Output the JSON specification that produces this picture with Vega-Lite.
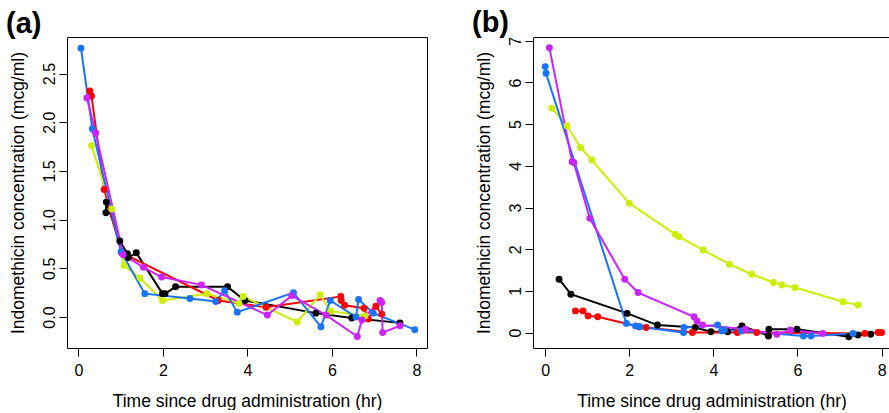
{
  "$schema": "https://vega.github.io/schema/vega-lite/v6.json",
  "padding": {"left": 5, "top": 8, "right": 0, "bottom": 0},
  "background": "white",
  "config": {
    "font": "Liberation Sans",
    "view": {"stroke": "black", "strokeWidth": 1},
    "axis": {"domain": false, "grid": false, "ticks": true, "tickColor": "black", "tickSize": 8, "tickWidth": 1, "labelColor": "black", "labelFontSize": 16, "titleColor": "black", "titleFontSize": 17.5, "titleFontWeight": "normal", "labelFont": "Liberation Sans", "titleFont": "Liberation Sans"},
    "axisX": {"labelPadding": 6, "titlePadding": 14},
    "axisY": {"labelAngle": -90, "labelPadding": 2, "titlePadding": 14},
    "title": {"fontSize": 29, "fontWeight": "bold", "anchor": "start", "frame": "bounds", "color": "black", "font": "Liberation Sans"}
  },
  "datasets": {
    "a": [
      {"s":1,"t":0.65,"c":1.07},{"s":1,"t":0.66,"c":1.18},{"s":1,"t":0.98,"c":0.78},{"s":1,"t":1.16,"c":0.65},{"s":1,"t":1.18,"c":0.61},{"s":1,"t":1.37,"c":0.66},{"s":1,"t":1.99,"c":0.24},{"s":1,"t":2.05,"c":0.24},{"s":1,"t":2.30,"c":0.31},{"s":1,"t":3.53,"c":0.31},{"s":1,"t":3.94,"c":0.17},{"s":1,"t":5.62,"c":0.04},{"s":1,"t":6.47,"c":-0.01},{"s":1,"t":7.61,"c":-0.06},
      {"s":2,"t":0.27,"c":2.32},{"s":2,"t":0.31,"c":2.27},{"s":2,"t":0.61,"c":1.31},{"s":2,"t":1.02,"c":0.66},{"s":2,"t":3.31,"c":0.17},{"s":2,"t":4.44,"c":0.10},{"s":2,"t":6.21,"c":0.21},{"s":2,"t":6.22,"c":0.17},{"s":2,"t":6.30,"c":0.12},{"s":2,"t":6.76,"c":0.09},{"s":2,"t":6.86,"c":-0.02},{"s":2,"t":7.04,"c":0.11},{"s":2,"t":7.18,"c":0.03},
      {"s":3,"t":0.31,"c":1.76},{"s":3,"t":0.79,"c":1.11},{"s":3,"t":1.08,"c":0.53},{"s":3,"t":1.46,"c":0.40},{"s":3,"t":1.99,"c":0.17},{"s":3,"t":3.04,"c":0.24},{"s":3,"t":3.80,"c":0.14},{"s":3,"t":3.90,"c":0.21},{"s":3,"t":5.18,"c":-0.05},{"s":3,"t":5.72,"c":0.23},{"s":3,"t":5.97,"c":0.06},{"s":3,"t":6.78,"c":0.01},
      {"s":4,"t":0.06,"c":2.76},{"s":4,"t":0.33,"c":1.93},{"s":4,"t":1.01,"c":0.67},{"s":4,"t":1.57,"c":0.24},{"s":4,"t":2.64,"c":0.19},{"s":4,"t":3.25,"c":0.16},{"s":4,"t":3.46,"c":0.27},{"s":4,"t":3.76,"c":0.05},{"s":4,"t":5.09,"c":0.25},{"s":4,"t":5.74,"c":-0.10},{"s":4,"t":5.96,"c":0.17},{"s":4,"t":6.57,"c":0.00},{"s":4,"t":6.63,"c":0.18},{"s":4,"t":6.98,"c":0.04},{"s":4,"t":7.96,"c":-0.13},
      {"s":5,"t":0.20,"c":2.25},{"s":5,"t":0.41,"c":1.89},{"s":5,"t":1.06,"c":0.64},{"s":5,"t":1.54,"c":0.51},{"s":5,"t":1.97,"c":0.41},{"s":5,"t":2.91,"c":0.33},{"s":5,"t":4.47,"c":0.02},{"s":5,"t":5.05,"c":0.22},{"s":5,"t":5.86,"c":0.02},{"s":5,"t":6.60,"c":-0.20},{"s":5,"t":6.71,"c":-0.03},{"s":5,"t":7.14,"c":0.17},{"s":5,"t":7.18,"c":0.15},{"s":5,"t":7.20,"c":-0.16},{"s":5,"t":7.61,"c":-0.09}
    ],
    "b": [
      {"s":1,"t":0.33,"c":1.28},{"s":1,"t":0.61,"c":0.92},{"s":1,"t":1.95,"c":0.46},{"s":1,"t":2.67,"c":0.18},{"s":1,"t":3.57,"c":0.12},{"s":1,"t":3.94,"c":0.02},{"s":1,"t":4.34,"c":0.02},{"s":1,"t":4.68,"c":0.16},{"s":1,"t":5.31,"c":-0.08},{"s":1,"t":5.32,"c":0.08},{"s":1,"t":5.99,"c":0.08},{"s":1,"t":7.22,"c":-0.10},{"s":1,"t":7.44,"c":-0.06},{"s":1,"t":7.74,"c":-0.04},
      {"s":2,"t":0.72,"c":0.52},{"s":2,"t":0.90,"c":0.52},{"s":2,"t":1.02,"c":0.40},{"s":2,"t":1.25,"c":0.38},{"s":2,"t":2.23,"c":0.14},{"s":2,"t":2.40,"c":0.12},{"s":2,"t":3.50,"c":0.00},{"s":2,"t":4.57,"c":0.00},{"s":2,"t":5.03,"c":0.00},{"s":2,"t":7.60,"c":-0.02},{"s":2,"t":7.92,"c":0.00},{"s":2,"t":8.00,"c":0.00},
      {"s":3,"t":0.16,"c":5.38},{"s":3,"t":0.52,"c":4.96},{"s":3,"t":0.84,"c":4.44},{"s":3,"t":1.11,"c":4.14},{"s":3,"t":2.00,"c":3.10},{"s":3,"t":3.09,"c":2.36},{"s":3,"t":3.18,"c":2.30},{"s":3,"t":3.76,"c":1.98},{"s":3,"t":4.38,"c":1.64},{"s":3,"t":4.91,"c":1.40},{"s":3,"t":5.43,"c":1.20},{"s":3,"t":5.63,"c":1.14},{"s":3,"t":5.94,"c":1.08},{"s":3,"t":7.08,"c":0.74},{"s":3,"t":7.44,"c":0.66},
      {"s":4,"t":0.00,"c":6.38},{"s":4,"t":0.02,"c":6.22},{"s":4,"t":1.93,"c":0.22},{"s":4,"t":2.15,"c":0.16},{"s":4,"t":2.25,"c":0.14},{"s":4,"t":3.29,"c":0.00},{"s":4,"t":3.30,"c":0.12},{"s":4,"t":4.10,"c":0.18},{"s":4,"t":4.20,"c":0.04},{"s":4,"t":4.26,"c":0.06},{"s":4,"t":4.66,"c":0.04},{"s":4,"t":6.14,"c":-0.08},{"s":4,"t":6.32,"c":-0.08},{"s":4,"t":7.32,"c":-0.02},
      {"s":5,"t":0.10,"c":6.83},{"s":5,"t":0.64,"c":4.10},{"s":5,"t":0.68,"c":4.08},{"s":5,"t":1.06,"c":2.74},{"s":5,"t":1.89,"c":1.28},{"s":5,"t":2.21,"c":0.96},{"s":5,"t":3.54,"c":0.38},{"s":5,"t":3.61,"c":0.28},{"s":5,"t":3.74,"c":0.18},{"s":5,"t":4.76,"c":0.08},{"s":5,"t":5.51,"c":-0.04},{"s":5,"t":5.83,"c":0.06},{"s":5,"t":6.60,"c":-0.02}
    ]
  },
  "spacing": 43,
  "hconcat": [
    {
      "title": {"text": "(a)", "dx": -3, "offset": -25, "baseline": "alphabetic"},
      "width": 360, "height": 311,
      "data": {"name": "a"},
      "encoding": {
        "x": {"field": "t", "type": "quantitative", "scale": {"domain": [-0.27, 8.25], "nice": false, "zero": false}, "axis": {"values": [0, 2, 4, 6, 8], "title": "Time since drug administration (hr)"}},
        "y": {"field": "c", "type": "quantitative", "scale": {"domain": [-0.318, 2.875], "nice": false, "zero": false}, "axis": {"values": [0, 0.5, 1, 1.5, 2, 2.5], "format": ".1f", "title": "Indomethicin concentration (mcg/ml)"}},
        "color": {"field": "s", "type": "nominal", "scale": {"domain": [1, 2, 3, 4, 5], "range": ["#000000", "#FF0000", "#CCEE00", "#1874FF", "#CC22FF"]}, "legend": null}
      },
      "layer": [
        {"mark": {"type": "line", "strokeWidth": 2}},
        {"mark": {"type": "point", "filled": true, "size": 48, "opacity": 1}}
      ]
    },
    {
      "title": {"text": "(b)", "dx": -3, "offset": -25, "baseline": "alphabetic"},
      "width": 357, "height": 311,
      "data": {"name": "b"},
      "encoding": {
        "x": {"field": "t", "type": "quantitative", "scale": {"domain": [-0.29, 8.2], "nice": false, "zero": false}, "axis": {"values": [0, 2, 4, 6, 8], "title": "Time since drug administration (hr)"}},
        "y": {"field": "c", "type": "quantitative", "scale": {"domain": [-0.37, 7.09], "nice": false, "zero": false}, "axis": {"values": [0, 1, 2, 3, 4, 5, 6, 7], "title": "Indomethicin concentration (mcg/ml)"}},
        "color": {"field": "s", "type": "nominal", "scale": {"domain": [1, 2, 3, 4, 5], "range": ["#000000", "#FF0000", "#CCEE00", "#1874FF", "#CC22FF"]}, "legend": null}
      },
      "layer": [
        {"mark": {"type": "line", "strokeWidth": 2}},
        {"mark": {"type": "point", "filled": true, "size": 48, "opacity": 1}}
      ]
    }
  ]
}
